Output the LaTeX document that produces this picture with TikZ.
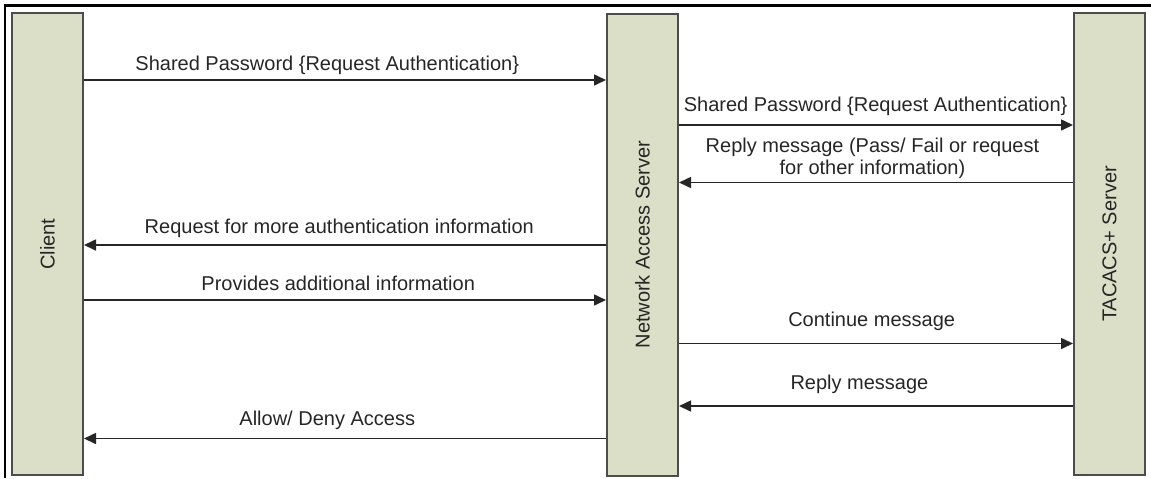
\documentclass[tikz,border=0pt]{standalone}
\usepackage{fontspec}
\setmainfont{Liberation Sans}
\usetikzlibrary{arrows.meta}
\definecolor{boxfill}{RGB}{220,223,200}
\tikzset{
	party/.style={draw=black!70, line width=1pt, fill=boxfill, inner sep=0pt,
		minimum width=35.5pt, minimum height=231pt},
	msg/.style={draw=black!85, line width=0.8pt, -{Triangle[length=6pt,width=5.5pt]}},
	lbl/.style={font=\fontsize{10}{11}\selectfont, text=black!85, inner sep=0pt},
	msglbl/.style={lbl, anchor=base},
}

\begin{document}
\begin{tikzpicture}[x=0.5pt, y=-0.5pt]
			%%%%% START %%%%%
			\useasboundingbox (0, 0) rectangle (1151, 478);
			\draw[line width=1.1pt] (4, 5.5) -- (1151, 5.5);
			\draw[line width=1.1pt] (5, 4) -- (5, 478);
			
			\node[party] (client) at (47.5, 244) {};
			\node[party] (nas) at (642.5, 244.5) {};
			\node[party] (tacacs) at (1109.5, 244) {};
			
			\node[lbl, rotate=90] (client-txt) at (client.center) {Client};
			\node[lbl, rotate=90] (nas-txt) at (nas.center) {Network Access Server};
			\node[lbl, rotate=90] (tacacs-txt) at (tacacs.center) {TACACS+ Server};
			
			\draw[msg] (client.east |- 0, 80) -- node[msglbl, pos=0.466, yshift=5pt] (m1) {Shared Password \{Request Authentication\}} (nas.west |- 0, 80);
			\draw[msg] (nas.east |- 0, 125) -- node[msglbl, pos=0.499, yshift=6.7pt] (m2) {Shared Password \{Request Authentication\}} (tacacs.west |- 0, 125);
			\draw[msg] (tacacs.west |- 0, 182.5) -- node[lbl, align=center, pos=0.509, anchor=south, yshift=1.6pt] (m3) {Reply message (Pass/ Fail or request\\for other information)} (nas.east |- 0, 182.5);
			\draw[msg] (nas.west |- 0, 245) -- node[msglbl, pos=0.511, yshift=5.8pt] (m4) {Request for more authentication information} (client.east |- 0, 245);
			\draw[msg] (client.east |- 0, 300) -- node[msglbl, pos=0.487, yshift=4.7pt] (m5) {Provides additional information} (nas.west |- 0, 300);
			\draw[msg] (nas.east |- 0, 343.5) -- node[msglbl, pos=0.489, yshift=8.3pt] (m6) {Continue message} (tacacs.west |- 0, 343.5);
			\draw[msg] (tacacs.west |- 0, 406) -- node[msglbl, pos=0.542, yshift=8.3pt] (m7) {Reply message} (nas.east |- 0, 406);
			\draw[msg] (nas.west |- 0, 438.5) -- node[msglbl, pos=0.534, yshift=6.7pt] (m8) {Allow/ Deny Access} (client.east |- 0, 438.5);
			%%%%% END %%%%%
\end{tikzpicture}
\end{document}
